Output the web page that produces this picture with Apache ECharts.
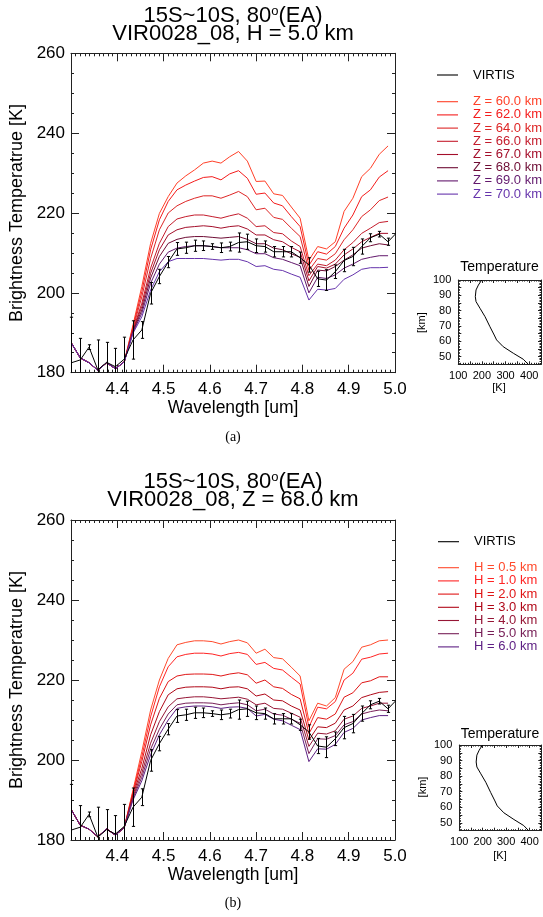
<!DOCTYPE html>
<html><head><meta charset="utf-8">
<script src="https://cdn.jsdelivr.net/npm/echarts@6/dist/echarts.min.js"></script>
<style>html,body{margin:0;padding:0;background:#fff}#c{width:543px;height:917px}</style>
</head><body><div id="c"></div>
<script>
// ---------- data ----------
const wavelength = [4.301, 4.320, 4.339, 4.358, 4.377, 4.396, 4.415, 4.434, 4.453, 4.472, 4.491, 4.510, 4.529, 4.548, 4.567, 4.586, 4.605, 4.624, 4.643, 4.662, 4.681, 4.700, 4.719, 4.738, 4.757, 4.776, 4.795, 4.814, 4.833, 4.852, 4.871, 4.890, 4.909, 4.928, 4.947, 4.966, 4.985, 5.004];
const virtis = [182.5, 183.2, 186.4, 180.7, 182.6, 181.5, 183.4, 188.2, 190.7, 199.9, 204.1, 207.7, 211.0, 211.3, 211.8, 211.8, 211.6, 211.3, 211.6, 212.6, 212.8, 211.8, 211.6, 210.3, 210.3, 210.3, 208.8, 207.0, 203.5, 203.2, 205.3, 208.1, 209.1, 211.6, 213.8, 214.7, 212.8, 215.1];
const virtisErr = [11.4, 5.4, 0.6, 7.5, 5.0, 4.6, 5.5, 4.8, 2.1, 2.7, 1.8, 1.4, 1.6, 1.4, 1.4, 1.2, 0.7, 1.2, 1.1, 2.4, 1.9, 1.7, 1.4, 1.3, 1.3, 1.3, 1.4, 1.8, 1.9, 2.6, 1.7, 2.8, 2.3, 1.9, 1.0, 0.7, 0.9, 0];

const z60 = [187.4, 183.7, 182.5, 180.6, 182.5, 181.0, 182.7, 192.0, 201.6, 212.4, 219.9, 224.1, 227.5, 229.3, 230.8, 232.5, 233.0, 232.5, 234.1, 235.4, 233.0, 227.9, 228.0, 224.8, 224.4, 221.5, 218.7, 208.2, 211.6, 211.0, 212.8, 220.4, 223.7, 229.1, 231.2, 234.7, 236.8];
const z62 = [187.4, 183.7, 182.5, 180.6, 182.5, 181.0, 182.7, 191.5, 200.3, 210.8, 218.3, 222.9, 225.8, 227.0, 228.0, 228.9, 229.1, 228.3, 229.8, 230.6, 228.7, 224.7, 225.0, 222.5, 221.8, 219.1, 216.6, 206.9, 210.3, 209.7, 211.6, 216.2, 219.5, 224.1, 225.8, 229.0, 230.6];
const z64 = [187.4, 183.7, 182.5, 180.6, 182.5, 181.0, 182.7, 191.1, 199.0, 208.6, 215.8, 220.0, 221.8, 222.9, 223.7, 224.3, 224.3, 223.7, 224.5, 225.4, 224.1, 220.8, 221.2, 218.9, 218.4, 216.2, 214.1, 205.6, 208.6, 208.2, 209.8, 213.3, 215.8, 219.1, 220.8, 223.1, 224.0];
const z66 = [187.4, 183.7, 182.5, 180.6, 182.5, 181.0, 182.7, 190.7, 197.4, 206.2, 212.4, 216.6, 218.5, 219.1, 219.5, 219.5, 219.1, 218.7, 219.3, 219.8, 218.7, 216.6, 216.8, 215.1, 214.8, 213.0, 211.6, 204.3, 207.2, 206.8, 208.2, 210.8, 212.6, 214.9, 216.2, 217.6, 217.9];
const z67 = [187.4, 183.7, 182.5, 180.6, 182.5, 181.0, 182.7, 190.5, 196.6, 204.9, 210.8, 214.5, 215.8, 216.4, 216.6, 216.8, 216.6, 216.2, 216.6, 216.8, 216.0, 214.5, 214.5, 213.3, 212.8, 211.4, 210.3, 203.0, 206.6, 206.2, 207.2, 209.5, 211.0, 212.8, 213.9, 214.9, 214.9];
const z68 = [187.4, 183.7, 182.5, 180.6, 182.5, 181.0, 182.7, 190.3, 195.7, 203.7, 209.1, 212.4, 213.4, 213.9, 214.1, 214.1, 213.9, 213.7, 213.9, 214.1, 213.4, 212.3, 212.3, 211.2, 210.8, 209.8, 208.9, 201.6, 205.7, 205.5, 206.6, 208.2, 209.5, 211.2, 211.8, 212.3, 212.0];
const z69 = [187.4, 183.7, 182.5, 180.6, 182.5, 181.0, 182.7, 190.1, 194.9, 202.4, 207.2, 210.2, 211.2, 211.6, 211.8, 211.8, 211.6, 211.3, 211.3, 211.3, 210.8, 209.8, 209.8, 208.8, 208.4, 207.6, 206.8, 200.0, 203.9, 203.6, 204.5, 206.2, 207.2, 208.4, 208.9, 209.3, 209.3];
const z70 = [187.4, 183.7, 182.5, 180.6, 182.5, 181.0, 182.7, 189.9, 194.0, 200.7, 205.3, 207.8, 208.6, 208.6, 208.6, 208.6, 208.4, 208.2, 208.4, 208.4, 207.8, 206.6, 206.8, 205.9, 205.6, 204.7, 203.9, 198.2, 200.9, 200.7, 201.1, 203.4, 204.5, 205.9, 206.3, 206.3, 206.4];

const h05 = [187.5, 183.7, 182.7, 180.8, 182.8, 181.2, 183.1, 192.5, 202.1, 212.5, 220.0, 225.4, 228.8, 229.4, 229.8, 229.8, 229.6, 229.0, 229.6, 230.0, 229.3, 226.7, 227.7, 225.6, 225.3, 223.2, 221.0, 209.8, 214.2, 213.5, 215.6, 222.7, 224.6, 228.2, 228.8, 229.8, 230.0];
const h10 = [187.5, 183.7, 182.7, 180.8, 182.8, 181.2, 183.1, 192.1, 200.8, 210.8, 218.3, 223.3, 225.8, 226.4, 226.7, 226.7, 226.5, 226.0, 226.6, 226.9, 226.4, 223.9, 224.4, 222.9, 222.5, 220.7, 219.0, 208.2, 213.2, 212.8, 214.6, 220.0, 221.7, 225.2, 225.7, 226.5, 226.7];
const h20 = [187.5, 183.7, 182.7, 180.8, 182.8, 181.2, 183.1, 191.7, 199.6, 208.8, 215.4, 219.6, 221.0, 221.4, 221.5, 221.5, 221.4, 221.0, 221.5, 221.8, 221.3, 219.2, 220.0, 218.3, 217.9, 216.4, 215.3, 206.6, 210.6, 210.2, 211.5, 215.7, 216.8, 219.3, 219.8, 220.8, 220.8];
const h30 = [187.5, 183.7, 182.7, 180.8, 182.8, 181.2, 183.1, 191.3, 197.9, 206.3, 212.1, 216.3, 217.8, 218.2, 218.3, 218.3, 218.2, 217.8, 218.2, 218.3, 217.8, 216.0, 216.5, 215.0, 214.8, 213.5, 212.5, 205.0, 208.3, 208.1, 209.2, 212.5, 213.5, 215.6, 216.3, 216.9, 217.1];
const h40 = [187.5, 183.7, 182.7, 180.8, 182.8, 181.2, 183.1, 190.8, 196.7, 204.2, 209.6, 213.3, 215.3, 215.6, 215.8, 215.8, 215.6, 215.3, 215.5, 215.7, 215.2, 213.8, 214.2, 212.9, 212.7, 211.7, 210.7, 203.4, 206.7, 206.5, 207.3, 210.2, 211.0, 212.9, 213.5, 214.2, 214.2];
const h50 = [187.5, 183.7, 182.7, 180.8, 182.8, 181.2, 183.1, 190.4, 195.7, 202.7, 207.7, 211.5, 213.8, 214.2, 214.3, 214.3, 214.2, 213.8, 214.1, 214.3, 213.8, 212.3, 212.7, 211.5, 211.2, 210.2, 209.2, 201.6, 205.3, 205.2, 206.1, 208.8, 209.6, 211.5, 212.1, 212.5, 212.3];
const h60 = [187.5, 183.7, 182.7, 180.8, 182.8, 181.2, 183.1, 190.0, 194.8, 201.3, 206.3, 210.0, 212.9, 213.3, 213.5, 213.5, 213.3, 212.9, 213.2, 213.3, 212.9, 211.0, 211.4, 210.2, 209.8, 208.7, 207.6, 199.6, 202.8, 202.7, 203.9, 206.9, 207.9, 210.0, 210.6, 211.1, 211.1];

const profAlt  = [100, 96.7, 93.5, 89.1, 85.9, 81.5, 76.1, 69.5, 64.1, 60.9, 56.5, 52.2, 48.3, 45];
const profTemp = [199, 185, 175, 172, 175, 192, 213, 234, 252, 262, 290, 333, 375, 396];

const mainYTicks = [180, 200, 220, 240, 260];
const mainXTicks = [4.4, 4.5, 4.6, 4.7, 4.8, 4.9, 5.0];
const insetXTicks = [100, 200, 300, 400];
const insetYTicks = [50, 60, 70, 80, 90, 100];

const topNames = ['Z = 60.0 km','Z = 62.0 km','Z = 64.0 km','Z = 66.0 km','Z = 67.0 km','Z = 68.0 km','Z = 69.0 km','Z = 70.0 km'];
const topSeries = [z60, z62, z64, z66, z67, z68, z69, z70];
const topColors = ['#ff4028','#f41c1c','#de2626','#c41c2c','#a40e2a','#6e0c34','#62186c','#6634ac'];
const botNames = ['H = 0.5 km','H = 1.0 km','H = 2.0 km','H = 3.0 km','H = 4.0 km','H = 5.0 km','H = 6.0 km'];
const botSeries = [h05, h10, h20, h30, h40, h50, h60];
const botColors = ['#ff4a2c','#ff2424','#e01616','#b00818','#961636','#782058','#5e2084'];

// ---------- helpers ----------
const FONT = "'Liberation Sans', Arial, Helvetica, sans-serif";
const AX = '#222';
function pairs(xs, ys){ return ys.map((v,i)=>[xs[i], v]); }

function mainX(g, pos){
  return {type:'value', gridIndex:g, position:pos, min:4.3, max:5.0, interval:0.1,
    axisLine:{show:true,onZero:false,lineStyle:{color:AX,width:1}},
    axisTick:{show:true,inside:true,length:8,lineStyle:{color:AX}},
    minorTick:{show:true,splitNumber:10,length:3,lineStyle:{color:AX}},
    splitLine:{show:false}, minorSplitLine:{show:false},
    axisLabel:{show:pos==='bottom',margin:8,fontSize:17,color:'#000',fontFamily:FONT,
      formatter:v=>{const r=Math.round(v*10)/10; return mainXTicks.indexOf(r)>=0? r.toFixed(1):'';}}};
}
function mainY(g, pos){
  return {type:'value', gridIndex:g, position:pos, min:180, max:260, interval:20,
    axisLine:{show:true,onZero:false,lineStyle:{color:AX,width:1}},
    axisTick:{show:true,inside:true,length:8,lineStyle:{color:AX}},
    minorTick:{show:true,splitNumber:4,length:3,lineStyle:{color:AX}},
    splitLine:{show:false}, minorSplitLine:{show:false},
    axisLabel:{show:pos==='left',margin:6,fontSize:17,color:'#000',fontFamily:FONT,
      formatter:v=>mainYTicks.indexOf(v)>=0? String(v):''}};
}
function insetX(g, pos){
  return {type:'value', gridIndex:g, position:pos, min:100, max:450, interval:50,
    axisLine:{show:true,onZero:false,lineStyle:{color:AX,width:1}},
    axisTick:{show:true,inside:true,length:3,lineStyle:{color:AX}},
    minorTick:{show:true,splitNumber:5,length:1.5,lineStyle:{color:AX}},
    splitLine:{show:false}, minorSplitLine:{show:false},
    axisLabel:{show:pos==='bottom',margin:6,fontSize:11,color:'#000',fontFamily:FONT,
      formatter:v=>insetXTicks.indexOf(v)>=0? String(v):''}};
}
function insetY(g, pos){
  return {type:'value', gridIndex:g, position:pos, min:45, max:100, interval:5,
    axisLine:{show:true,onZero:false,lineStyle:{color:AX,width:1}},
    axisTick:{show:true,inside:true,length:3,lineStyle:{color:AX}},
    minorTick:{show:true,splitNumber:5,length:1.5,lineStyle:{color:AX}},
    splitLine:{show:false}, minorSplitLine:{show:false},
    axisLabel:{show:pos==='left',margin:7,fontSize:11,color:'#000',fontFamily:FONT,
      formatter:v=>insetYTicks.indexOf(v)>=0? String(v):''}};
}

function errSeries(xi, yi){
  return {type:'custom', xAxisIndex:xi, yAxisIndex:yi, silent:true, z:6,
    encode:{x:0,y:1},
    data: virtis.map((v,i)=>[wavelength[i], v, virtisErr[i]]).filter(d=>d[2]>0 && d[0]<=5.0),
    renderItem:(params, api)=>{
      const x=api.value(0), y=api.value(1), e=api.value(2);
      const t=api.coord([x,y+e]), b=api.coord([x,y-e]);
      const cs=params.coordSys;
      const yT=Math.max(t[1], cs.y), yB=Math.min(b[1], cs.y+cs.height);
      const px=Math.round(t[0])+0.5, h=1.6;
      const st={stroke:'#000', lineWidth:1};
      const ch=[{type:'line',shape:{x1:px,y1:yT,x2:px,y2:yB},style:st}];
      if (t[1]>=cs.y) ch.push({type:'line',shape:{x1:px-h,y1:t[1],x2:px+h,y2:t[1]},style:st});
      if (b[1]<=cs.y+cs.height) ch.push({type:'line',shape:{x1:px-h,y1:b[1],x2:px+h,y2:b[1]},style:st});
      return {type:'group', children:ch};
    }};
}

const series = [];
topSeries.forEach((arr,k)=>series.push({type:'line', name:topNames[k], xAxisIndex:0, yAxisIndex:0,
  data:pairs(wavelength, arr), symbol:'none', lineStyle:{width:1,color:topColors[k]}, itemStyle:{color:topColors[k]}, z:3, animation:false}));
series.push({type:'line', name:'VIRTIS', xAxisIndex:0, yAxisIndex:0, data:pairs(wavelength, virtis), symbol:'none',
  lineStyle:{width:1,color:'#000'}, itemStyle:{color:'#000'}, z:5, animation:false});
series.push(errSeries(0,0));
series.push({type:'line', name:'profileA', xAxisIndex:2, yAxisIndex:2, data:profTemp.map((t,i)=>[t, profAlt[i]]),
  symbol:'none', lineStyle:{width:1,color:'#000'}, animation:false});

botSeries.forEach((arr,k)=>series.push({type:'line', name:botNames[k], xAxisIndex:4, yAxisIndex:4,
  data:pairs(wavelength, arr), symbol:'none', lineStyle:{width:1,color:botColors[k]}, itemStyle:{color:botColors[k]}, z:3, animation:false}));
series.push({type:'line', name:'VIRTIS', xAxisIndex:4, yAxisIndex:4, data:pairs(wavelength, virtis), symbol:'none',
  lineStyle:{width:1,color:'#000'}, itemStyle:{color:'#000'}, z:5, animation:false});
series.push(errSeries(4,4));
series.push({type:'line', name:'profileB', xAxisIndex:6, yAxisIndex:6, data:profTemp.map((t,i)=>[t, profAlt[i]]),
  symbol:'none', lineStyle:{width:1,color:'#000'}, animation:false});

function legend(names, colors, left, top){
  return {show:true, orient:'vertical', left:left, top:top, padding:0, itemWidth:21, itemHeight:1.1, itemGap:0.2,
    selectedMode:false, icon:'rect',
    textStyle:{fontSize:13, fontFamily:FONT, lineHeight:13, padding:[0,0,0,10]},
    data:names.map((n,i)=>({name:n, textStyle:{color:colors[i]}}))};
}

function txt(x, y, text, size, opts){
  opts = opts||{};
  return {type:'text', x:x, y:y, rotation:opts.rot||0, silent:true,
    style:{x:0, y:0, text:text, fill:'#000', font:size+'px '+(opts.serif? "'Liberation Serif', 'Times New Roman', serif" : FONT),
      align:'center', verticalAlign:'middle', textAlign:'center', textVerticalAlign:'middle',
      lineHeight:opts.lh||size, rich:opts.rich}};
}
const supRich = {s:{fontSize:13, lineHeight:13, verticalAlign:'top', fontFamily:FONT, fill:'#000'}};

const option = {
  backgroundColor:'#fff',
  animation:false,
  grid:[
    {left:71, top:53.3, width:324, height:319.4, outerBoundsMode:'none'},
    {left:458.3, top:280, width:82.7, height:84.3, outerBoundsMode:'none'},
    {left:71, top:520, width:324, height:320, outerBoundsMode:'none'},
    {left:459.3, top:745, width:82, height:85.7, outerBoundsMode:'none'}
  ],
  xAxis:[mainX(0,'bottom'), mainX(0,'top'), insetX(1,'bottom'), insetX(1,'top'),
         mainX(2,'bottom'), mainX(2,'top'), insetX(3,'bottom'), insetX(3,'top')],
  yAxis:[mainY(0,'left'), mainY(0,'right'), insetY(1,'left'), insetY(1,'right'),
         mainY(2,'left'), mainY(2,'right'), insetY(3,'left'), insetY(3,'right')],
  legend:[
    legend(['VIRTIS'], ['#000'], 437, 68.5),
    legend(topNames, topColors, 437, 95.2),
    legend(['VIRTIS'], ['#000'], 438, 535.2),
    legend(botNames, botColors, 438, 561.2)
  ],
  series:series,
  graphic:{elements:[
    txt(233, 16, '15S~10S, 80{s|o}(EA)', 22, {lh:23, rich:supRich}),
    txt(233, 34, 'VIR0028_08, H = 5.0 km', 22),
    txt(233, 482, '15S~10S, 80{s|o}(EA)', 22, {lh:23, rich:supRich}),
    txt(233, 500, 'VIR0028_08, Z = 68.0 km', 22),
    txt(17.5, 213, 'Brightness Temperatrue [K]', 18, {rot:Math.PI/2}),
    txt(17.5, 680, 'Brightness Temperatrue [K]', 18, {rot:Math.PI/2}),
    txt(233, 408, 'Wavelength [um]', 17.5),
    txt(233, 875, 'Wavelength [um]', 17.5),
    txt(233, 437, '(a)', 14, {serif:true}),
    txt(233, 903, '(b)', 14, {serif:true}),
    txt(499.5, 267, 'Temperature', 14),
    txt(500, 734, 'Temperature', 14),
    txt(421.7, 322.7, '[km]', 11, {rot:Math.PI/2}),
    txt(423, 787, '[km]', 11, {rot:Math.PI/2}),
    txt(499, 388, '[K]', 11),
    txt(500, 856, '[K]', 11)
  ]}
};
const chart = echarts.init(document.getElementById('c'), null, {renderer:'canvas'});
chart.setOption(option);
</script></body></html>
